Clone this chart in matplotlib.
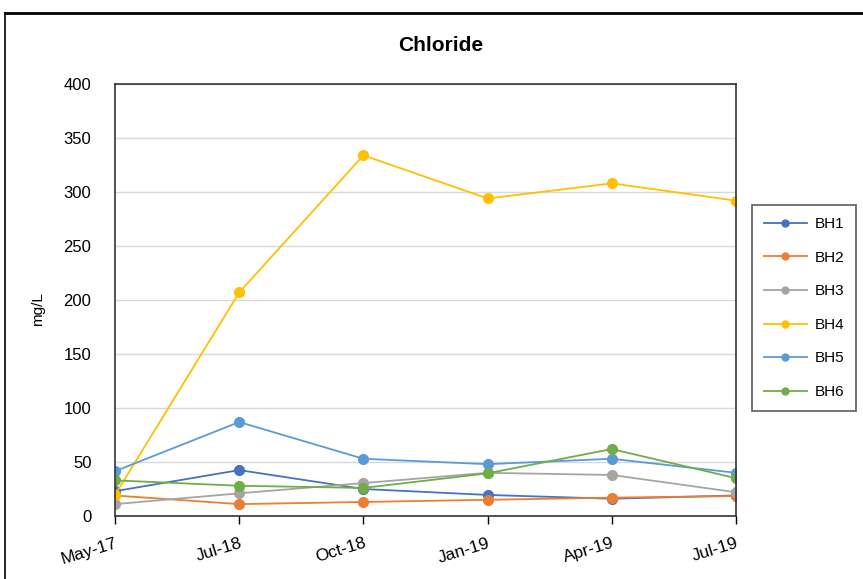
import matplotlib.pyplot as plt
from matplotlib.lines import Line2D

plt.rcParams['font.family'] = ['Liberation Sans', 'DejaVu Sans']

# sampling dates and chloride results (mg/L) per borehole
dates = ['May-17', 'Jul-18', 'Oct-18', 'Jan-19', 'Apr-19', 'Jul-19']
bh1 = [23, 42.5, 25, 19.5, 16, 19]
bh2 = [19, 11, 13, 15, 17, 18.5]
bh3 = [11, 21, 30.5, 40, 38, 22]
bh4 = [19.5, 207, 334, 294, 308, 292]
bh5 = [41.5, 87, 53, 48, 53, 40]
bh6 = [33, 28, 26, 39.5, 62, 35]

names = ['BH1', 'BH2', 'BH3', 'BH4', 'BH5', 'BH6']
colors = ['#4472C4', '#ED7D31', '#A5A5A5', '#FFC000', '#5B9BD5', '#70AD47']

fig = plt.figure(figsize=(8.63, 5.79), dpi=100)
ax = fig.add_axes([0.1333, 0.1088, 0.7195, 0.7461])

x = range(len(dates))
series = [bh1, bh2, bh3, bh4, bh5, bh6]
for vals, name, c in zip(series, names, colors):
    ax.plot(x, vals, color=c, lw=1.3, marker='o', ms=7, label=name)

ax.set_xlim(0, len(dates) - 1)
ax.set_ylim(0, 400)
ax.set_yticks(range(0, 401, 50))
ax.set_xticks(list(x))
ax.set_xticklabels(dates, rotation=17, ha='right', rotation_mode='anchor')
ax.tick_params(axis='y', length=0, labelsize=12, pad=17)
ax.tick_params(axis='x', length=6, width=1, labelsize=12.5, pad=8)
ax.yaxis.grid(True, color='#d9d9d9', lw=1)
ax.set_axisbelow(True)
for s in ax.spines.values():
    s.set_color('#333333')
    s.set_linewidth(1.2)

ax.set_ylabel('mg/L', fontsize=11)
ax.yaxis.set_label_coords(-0.112, 0.48)
fig.text(0.511, 0.922, 'Chloride', fontsize=15, fontweight='bold',
         ha='center', va='center')

handles = [Line2D([0], [0], color=c, lw=1.3, marker='o', ms=5) for c in colors]
leg = fig.legend(handles, names, loc='upper left', bbox_to_anchor=(0.871, 0.646),
                 fontsize=11, frameon=True, fancybox=False, edgecolor='#333333',
                 handlelength=2.8, labelspacing=1.28, borderpad=0.8,
                 handletextpad=0.5, borderaxespad=0)
leg.get_frame().set_linewidth(1.2)

# outer chart frame (top and left edges)
fig.add_artist(Line2D([0.006, 0.006], [0, 0.978], color='black', lw=1.2,
                      transform=fig.transFigure))
fig.add_artist(Line2D([0.006, 1.0], [0.978, 0.978], color='black', lw=2,
                      transform=fig.transFigure))

fig.savefig('out.png', dpi=100)
